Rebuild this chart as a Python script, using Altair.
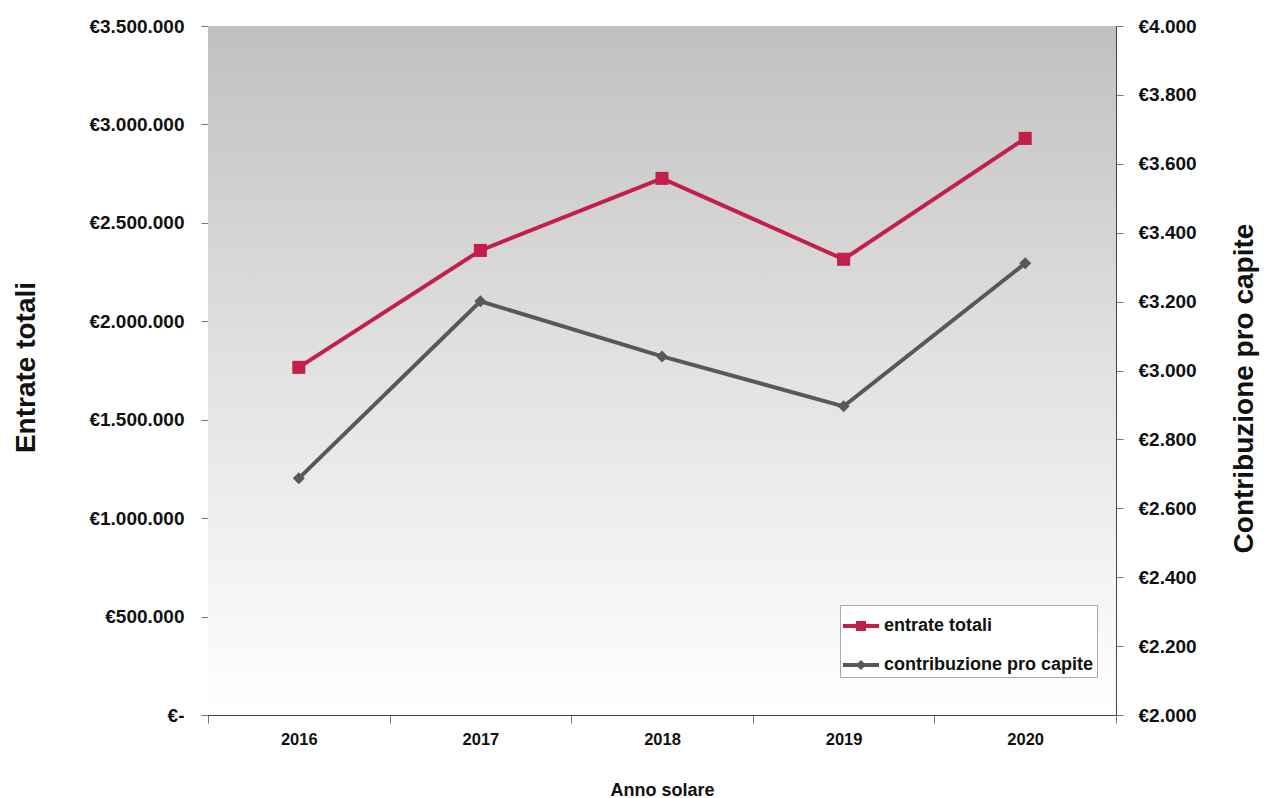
import altair as alt
import pandas as pd

# ---- data ----
anni = ["2016", "2017", "2018", "2019", "2020"]
entrate_totali = [1766000, 2360000, 2726000, 2315000, 2929000]
contribuzione_pro_capite = [2687, 3201, 3041, 2896, 3311]
serie = ["entrate totali", "contribuzione pro capite"]
colori = ["#c41e4a", "#585858"]
left_ticks = [0, 500000, 1000000, 1500000, 2000000, 2500000, 3000000, 3500000]
right_ticks = [2000, 2200, 2400, 2600, 2800, 3000, 3200, 3400, 3600, 3800, 4000]

df = pd.DataFrame({"anno": anni, "entrate": entrate_totali, "contrib": contribuzione_pro_capite})
leg_df = pd.DataFrame({"serie": serie})

W, H = 908, 689
FONT = "Liberation Sans, Arial, sans-serif"

legend_paths = [
    "M-1,-0.11H1V0.11H-1Z M-0.28,-0.28H0.28V0.28H-0.28Z",
    "M-1,-0.11H1V0.11H-1Z M0,-0.28L0.28,0L0,0.28L-0.28,0Z",
]

x_enc = alt.X(
    "anno:N",
    sort=anni,
    title="Anno solare",
    scale=alt.Scale(type="band", paddingInner=0, paddingOuter=0),
    axis=alt.Axis(
        labelAngle=0, tickBand="extent", tickSize=8, labelPadding=8,
        labelFont=FONT, labelFontSize=16.5, labelFontWeight="bold", labelColor="#111",
        titleFont=FONT, titleFontSize=18, titleFontWeight="bold", titleColor="#111",
        titleY=75, titleBaseline="middle",
        domainColor="#444", tickColor="#777",
    ),
)

bg_gradient = alt.LinearGradient(
    gradient="linear",
    stops=[
        alt.GradientStop(color="#c0c0c0", offset=0),
        alt.GradientStop(color="#e2e2e2", offset=0.5),
        alt.GradientStop(color="#ffffff", offset=1),
    ],
    x1=0, x2=0, y1=0, y2=1,
)

bg = alt.Chart(alt.Data(values=[{"k": 1}])).mark_rect(fill=bg_gradient).encode(
    x=alt.value(0), x2=alt.value(W), y=alt.value(0), y2=alt.value(H)
)

left_label_expr = (
    "datum.value == 0 ? '€-' : '€' + "
    "replace(replace(format(datum.value, ',d'), ',', '.'), ',', '.')"
)
right_label_expr = "'€' + replace(replace(format(datum.value, ',d'), ',', '.'), ',', '.')"

y_left = alt.Y(
    "entrate:Q",
    title="Entrate totali",
    scale=alt.Scale(domain=[0, 3500000], nice=False, zero=False),
    axis=alt.Axis(
        orient="left", values=left_ticks, labelExpr=left_label_expr, grid=False,
        tickSize=7, labelPadding=17,
        labelFont=FONT, labelFontSize=19, labelFontWeight="bold", labelColor="#111",
        titleFont=FONT, titleFontSize=28, titleFontWeight="bold", titleColor="#111",
        titleAngle=-90, titleX=-182, titleY=341, titleAlign="center", titleBaseline="middle",
        domainColor="#444", tickColor="#777",
    ),
)

y_right = alt.Y(
    "contrib:Q",
    title="Contribuzione pro capite",
    scale=alt.Scale(domain=[2000, 4000], nice=False, zero=False),
    axis=alt.Axis(
        orient="right", values=right_ticks, labelExpr=right_label_expr, grid=False,
        tickSize=7, labelPadding=15,
        labelFont=FONT, labelFontSize=19, labelFontWeight="bold", labelColor="#111",
        titleFont=FONT, titleFontSize=28, titleFontWeight="bold", titleColor="#111",
        titleAngle=-90, titleX=128, titleY=362, titleAlign="center", titleBaseline="middle",
        domainColor="#444", tickColor="#777",
    ),
)

base = alt.Chart(df)

red_line = base.mark_line(color=colori[0], strokeWidth=4).encode(x=x_enc, y=y_left)
red_pts = base.mark_square(color=colori[0], size=170, opacity=1).encode(x=x_enc, y=y_left)

legend_common = dict(
    title=None, orient="none", legendX=632, legendY=579,
    fillColor="white", strokeColor="#aaaaaa", padding=3,
    symbolSize=1296, symbolStrokeWidth=0, symbolOpacity=1,
    labelFont=FONT, labelFontSize=18, labelFontWeight="bold", labelColor="#111",
    labelOffset=5, rowPadding=12, labelLimit=500,
)
legend_layer = alt.Chart(leg_df).mark_point(filled=True, opacity=1, size=10).encode(
    x=alt.value(-5000),
    y=alt.value(-5000),
    color=alt.Color("serie:N", sort=serie, scale=alt.Scale(domain=serie, range=colori),
                    legend=alt.Legend(**legend_common)),
    shape=alt.Shape("serie:N", sort=serie, scale=alt.Scale(domain=serie, range=legend_paths),
                    legend=alt.Legend(**legend_common)),
)

gray_line = base.mark_line(color=colori[1], strokeWidth=4).encode(x=x_enc, y=y_right)
gray_pts = base.mark_point(shape="diamond", filled=True, color=colori[1], size=144, opacity=1).encode(
    x=x_enc, y=y_right
)

left = alt.layer(red_line, red_pts, legend_layer)
right = alt.layer(gray_line, gray_pts)

chart = (
    alt.layer(bg, left, right)
    .resolve_scale(y="independent")
    .properties(
        width=W, height=H,
        padding={"left": 208, "top": 26, "right": 148, "bottom": 83},
        autosize=alt.AutoSizeParams(type="none"),
        background="white",
    )
    .configure_view(stroke="#666666", strokeWidth=1)
)

chart.save("out.html", embed_options={"renderer": "svg", "actions": False})
